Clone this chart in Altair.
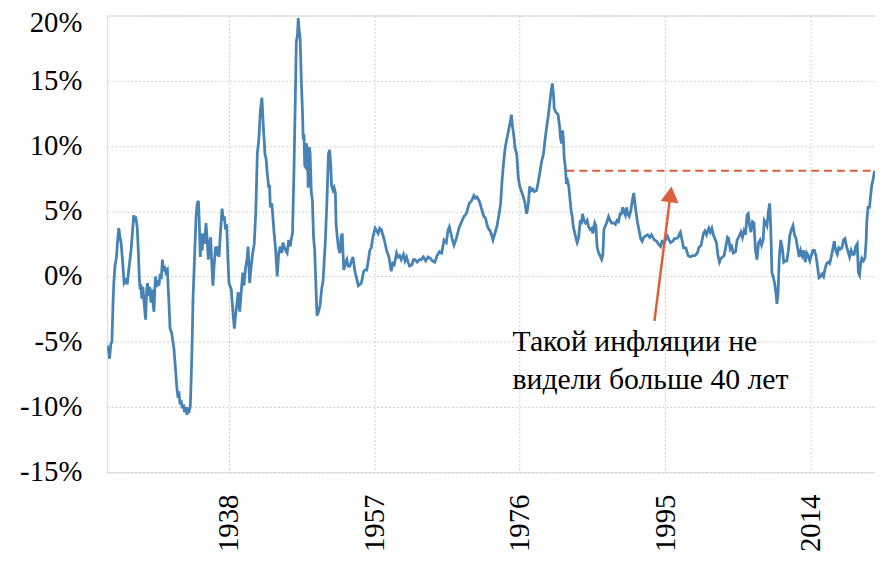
import altair as alt
import pandas as pd

# ---- data (year, YoY inflation %) ----
years = [
    1922.10, 1922.25, 1922.40, 1922.55, 1922.70, 1922.85, 1922.95, 1923.10, 1923.30, 1923.45,
    1923.60, 1923.75, 1923.90, 1924.05, 1924.30, 1924.50, 1924.70, 1924.90, 1925.20, 1925.40,
    1925.55, 1925.65, 1925.80, 1926.00, 1926.15, 1926.30, 1926.40, 1926.50, 1926.60, 1926.75,
    1926.90, 1927.10, 1927.25, 1927.35, 1927.50, 1927.65, 1927.80, 1927.95, 1928.10, 1928.20,
    1928.30, 1928.40, 1928.55, 1928.70, 1928.85, 1929.00, 1929.15, 1929.30, 1929.45, 1929.60,
    1929.75, 1929.95, 1930.15, 1930.30, 1930.50, 1930.80, 1931.00, 1931.20, 1931.35, 1931.45,
    1931.60, 1931.75, 1931.90, 1932.05, 1932.20, 1932.35, 1932.50, 1932.65, 1932.80, 1932.95,
    1933.15, 1933.30, 1933.50, 1933.70, 1933.85, 1934.00, 1934.10, 1934.25, 1934.40, 1934.50,
    1934.65, 1934.80, 1935.00, 1935.15, 1935.30, 1935.45, 1935.60, 1935.75, 1935.90, 1936.05,
    1936.25, 1936.40, 1936.55, 1936.70, 1936.90, 1937.10, 1937.25, 1937.40, 1937.55, 1937.70,
    1937.85, 1938.00, 1938.30, 1938.50, 1938.70, 1938.85, 1939.05, 1939.20, 1939.40, 1939.60,
    1939.80, 1939.95, 1940.15, 1940.35, 1940.50, 1940.70, 1940.90, 1941.10, 1941.30, 1941.50,
    1941.70, 1941.90, 1942.10, 1942.30, 1942.50, 1942.70, 1942.85, 1943.00, 1943.20, 1943.30,
    1943.40, 1943.60, 1943.90, 1944.10, 1944.30, 1944.50, 1944.70, 1944.90, 1945.05, 1945.20,
    1945.40, 1945.60, 1945.80, 1946.00, 1946.15, 1946.30, 1946.50, 1946.70, 1946.80, 1946.95,
    1947.05, 1947.15, 1947.30, 1947.45, 1947.60, 1947.70, 1947.80, 1947.90, 1948.00, 1948.10,
    1948.25, 1948.35, 1948.50, 1948.60, 1948.75, 1948.90, 1949.05, 1949.20, 1949.35, 1949.50,
    1949.70, 1949.90, 1950.10, 1950.30, 1950.60, 1950.80, 1951.00, 1951.15, 1951.30, 1951.40,
    1951.60, 1951.75, 1951.90, 1952.00, 1952.10, 1952.30, 1952.50, 1952.65, 1952.80, 1952.95,
    1953.00, 1953.20, 1953.40, 1953.55, 1953.80, 1954.00, 1954.20, 1954.40, 1954.50, 1954.70,
    1954.90, 1955.10, 1955.30, 1955.60, 1955.80, 1956.00, 1956.20, 1956.40, 1956.60, 1956.80,
    1957.10, 1957.30, 1957.50, 1957.70, 1957.90, 1958.10, 1958.30, 1958.60, 1958.90, 1959.20,
    1959.40, 1959.60, 1959.90, 1960.10, 1960.30, 1960.50, 1960.80, 1961.00, 1961.20, 1961.40,
    1961.60, 1961.90, 1962.10, 1962.30, 1962.60, 1962.90, 1963.10, 1963.40, 1963.70, 1964.00,
    1964.30, 1964.60, 1964.90, 1965.20, 1965.50, 1965.80, 1966.10, 1966.40, 1966.60, 1966.80,
    1967.00, 1967.20, 1967.40, 1967.70, 1968.10, 1968.40, 1968.70, 1969.00, 1969.40, 1969.70,
    1970.00, 1970.20, 1970.40, 1970.70, 1971.00, 1971.30, 1971.50, 1971.80, 1972.00, 1972.20,
    1972.50, 1972.75, 1973.00, 1973.30, 1973.50, 1973.70, 1973.90, 1974.10, 1974.40, 1974.60,
    1974.80, 1974.90, 1975.05, 1975.20, 1975.40, 1975.60, 1975.80, 1976.00, 1976.30, 1976.50,
    1976.70, 1976.90, 1977.10, 1977.30, 1977.50, 1977.70, 1977.90, 1978.20, 1978.40, 1978.60,
    1978.85, 1979.10, 1979.30, 1979.50, 1979.70, 1979.90, 1980.10, 1980.25, 1980.40, 1980.50,
    1980.70, 1981.00, 1981.20, 1981.30, 1981.45, 1981.60, 1981.70, 1981.80, 1981.95, 1982.10,
    1982.25, 1982.40, 1982.55, 1982.70, 1982.85, 1983.00, 1983.20, 1983.35, 1983.50, 1983.70,
    1983.90, 1984.05, 1984.20, 1984.40, 1984.60, 1984.80, 1985.00, 1985.20, 1985.40, 1985.55,
    1985.80, 1985.95, 1986.10, 1986.30, 1986.50, 1986.70, 1986.85, 1987.00, 1987.20, 1987.40,
    1987.60, 1987.80, 1988.00, 1988.30, 1988.50, 1988.70, 1988.90, 1989.10, 1989.30, 1989.45,
    1989.60, 1989.80, 1989.95, 1990.10, 1990.30, 1990.50, 1990.70, 1990.90, 1991.05, 1991.20,
    1991.40, 1991.60, 1991.80, 1992.00, 1992.20, 1992.40, 1992.70, 1993.00, 1993.20, 1993.40,
    1993.60, 1993.90, 1994.10, 1994.40, 1994.60, 1994.90, 1995.10, 1995.30, 1995.50, 1995.70,
    1996.00, 1996.20, 1996.40, 1996.70, 1996.90, 1997.00, 1997.20, 1997.40, 1997.70, 1998.00,
    1998.30, 1998.60, 1998.90, 1999.20, 1999.40, 1999.70, 2000.00, 2000.20, 2000.40, 2000.70,
    2000.90, 2001.10, 2001.30, 2001.50, 2001.70, 2001.90, 2002.10, 2002.30, 2002.50, 2002.70,
    2002.90, 2003.15, 2003.30, 2003.50, 2003.70, 2003.90, 2004.20, 2004.40, 2004.60, 2004.90,
    2005.10, 2005.30, 2005.50, 2005.70, 2005.85, 2006.00, 2006.20, 2006.40, 2006.60, 2006.80,
    2007.00, 2007.20, 2007.40, 2007.60, 2007.80, 2007.95, 2008.15, 2008.30, 2008.50, 2008.65,
    2008.80, 2008.95, 2009.10, 2009.30, 2009.50, 2009.60, 2009.75, 2009.90, 2010.10, 2010.30,
    2010.50, 2010.70, 2010.90, 2011.10, 2011.30, 2011.50, 2011.70, 2011.90, 2012.10, 2012.30,
    2012.50, 2012.70, 2012.90, 2013.10, 2013.30, 2013.50, 2013.70, 2013.90, 2014.10, 2014.30,
    2014.50, 2014.70, 2014.90, 2015.10, 2015.30, 2015.50, 2015.70, 2015.90, 2016.10, 2016.30,
    2016.50, 2016.70, 2016.90, 2017.10, 2017.30, 2017.50, 2017.70, 2017.90, 2018.10, 2018.30,
    2018.50, 2018.70, 2018.90, 2019.10, 2019.30, 2019.50, 2019.70, 2019.90, 2020.10, 2020.25,
    2020.40, 2020.55, 2020.70, 2020.90, 2021.10, 2021.25, 2021.35, 2021.50, 2021.70, 2021.85,
    2022.00, 2022.15, 2022.30, 2022.40,
]
inflation = [
    -5.3, -5.6, -6.3, -5.2, -5.0, -2.0, -0.5, 0.8, 1.5, 2.8,
    3.7, 3.0, 2.6, 1.5, -0.5, -0.3, -0.6, 0.5, 2.0, 3.5,
    4.7, 4.2, 4.6, 3.8, 2.0, -0.3, -1.0, -0.6, -1.7, -0.8,
    -2.0, -3.3, -1.0, -0.5, -1.5, -0.8, -2.0, -1.0, -2.2, -2.7,
    -1.0, 0.0, -0.8, -0.3, -0.7, 0.2, -0.2, 1.3, 0.4, 0.8,
    0.3, 0.5, -2.0, -4.0, -4.3, -5.5, -7.0, -8.6, -9.3, -8.8,
    -9.8, -9.5, -10.1, -9.8, -10.4, -10.0, -10.6, -10.2, -10.3, -9.9,
    -6.0, -1.7, 1.5, 4.6, 5.6, 5.8, 4.5, 1.5, 3.3, 2.0,
    3.3, 2.5, 4.1, 2.8, 1.3, 2.5, 3.0, 1.0, -0.7, 0.8,
    2.3, 1.6, 2.3, 1.5, 3.5, 5.2, 4.3, 4.6, 3.6, 4.0,
    1.5, -0.5, -1.0, -2.6, -4.0, -3.0, -2.0, -1.2, -2.7, -1.2,
    0.3, -0.7, 0.6, 1.3, 2.3, -0.5, 0.8, 1.8, 2.5, 4.9,
    9.4, 10.5, 12.7, 13.7, 11.4, 9.4, 9.0, 7.9, 6.8, 7.0,
    5.3, 5.6, 3.3, 2.0, 0.0, 1.8, 2.3, 1.8, 2.6, 2.3,
    2.0, 1.8, 2.8, 2.3, 2.9, 3.3, 8.4, 14.7, 18.0, 18.5,
    19.8, 19.0, 18.2, 15.0, 12.7, 10.5, 10.9, 8.5, 8.4, 10.2,
    9.8, 6.8, 9.9, 9.5, 6.5, 5.8, 3.0, 2.0, -0.5, -3.0,
    -2.7, -2.2, -1.0, -0.3, 2.8, 5.8, 9.4, 9.7, 8.5, 7.0,
    6.6, 6.8, 6.4, 4.0, 3.3, 2.2, 1.8, 3.0, 3.3, 1.2,
    0.5, 1.0, 1.3, 0.8, 0.8, 1.2, 1.5, 0.6, 0.3, -0.2,
    -0.7, -0.6, -0.5, 0.4, 0.5, 0.5, 1.2, 2.0, 2.2, 3.0,
    3.7, 3.5, 3.3, 3.7, 3.6, 3.2, 2.8, 2.0, 1.5, 0.4,
    1.0, 0.9, 1.8, 1.5, 1.6, 1.3, 1.7, 1.2, 1.5, 1.1,
    0.8, 0.9, 1.3, 1.3, 1.1, 1.3, 1.3, 1.5, 1.2, 1.5,
    1.4, 1.2, 1.1, 1.6, 1.9, 1.8, 2.8, 2.6, 3.5, 3.8,
    3.3, 2.8, 2.4, 2.9, 3.8, 4.2, 4.6, 4.8, 5.6, 5.8,
    6.2, 6.0, 6.1, 5.8, 5.2, 4.6, 4.5, 3.8, 3.6, 3.4,
    2.8, 3.3, 3.8, 4.8, 5.6, 7.5, 8.8, 9.9, 10.8, 11.4,
    12.0, 12.4, 11.5, 10.9, 9.8, 9.4, 7.6, 6.9, 6.4, 6.0,
    5.6, 4.8, 5.5, 6.9, 6.6, 6.7, 6.5, 6.6, 7.2, 7.9,
    8.8, 9.4, 10.5, 11.4, 12.2, 13.2, 14.2, 14.8, 14.0, 12.9,
    12.6, 12.4, 11.5, 10.7, 10.2, 11.2, 10.5, 9.1, 8.4, 7.1,
    7.3, 6.9, 6.0, 5.1, 4.6, 3.8, 3.3, 2.9, 2.6, 3.0,
    4.3, 4.0, 4.8, 4.3, 4.1, 4.3, 3.8, 3.6, 3.7, 3.3,
    4.1, 3.9, 2.3, 1.8, 1.6, 1.3, 1.6, 3.6, 3.9, 4.2,
    4.6, 4.3, 4.1, 4.1, 4.0, 4.3, 4.2, 4.8, 4.8, 5.3,
    5.0, 4.7, 5.3, 4.8, 4.6, 5.0, 5.8, 6.4, 5.6, 4.9,
    4.1, 3.5, 2.9, 2.7, 3.0, 3.1, 3.2, 3.0, 3.2, 3.0,
    2.8, 2.7, 2.5, 2.3, 2.7, 2.6, 2.9, 3.1, 2.8, 2.6,
    2.7, 2.9, 2.9, 3.0, 3.3, 3.4, 2.8, 2.2, 2.2, 1.6,
    1.5, 1.6, 1.6, 1.8, 2.2, 2.4, 3.3, 3.5, 3.2, 3.7,
    3.4, 3.7, 3.2, 2.9, 2.6, 1.6, 1.1, 1.4, 1.5, 1.6,
    2.2, 3.0, 2.9, 2.1, 2.3, 1.8, 1.9, 2.8, 3.0, 3.4,
    3.0, 3.5, 3.2, 4.7, 4.8, 4.0, 3.4, 4.2, 4.1, 2.0,
    1.3, 2.6, 2.8, 2.4, 2.8, 4.3, 4.1, 3.9, 5.0, 5.6,
    3.7, 0.3, 0.0, -0.5, -1.4, -2.1, -1.3, 1.3, 2.8, 2.2,
    1.1, 1.2, 1.2, 2.0, 3.2, 3.6, 3.9, 3.2, 2.9, 2.2,
    1.5, 2.0, 1.6, 2.0, 1.1, 1.8, 1.6, 1.2, 1.6, 2.0,
    2.0, 1.6, 0.8, -0.1, 0.0, 0.2, 0.0, 0.6, 1.0, 1.1,
    1.0, 1.5, 2.1, 2.7, 2.0, 1.7, 2.2, 2.1, 2.2, 2.8,
    2.9, 2.3, 1.9, 1.5, 2.0, 1.7, 1.7, 2.3, 2.5, 0.3,
    0.1, 1.0, 1.4, 1.2, 1.4, 2.6, 4.2, 5.3, 5.3, 6.2,
    7.0, 7.4, 7.9, 8.1,
]

x_ticks = [1938, 1957, 1976, 1995, 2014]
y_ticks = [-15, -10, -5, 0, 5, 10, 15, 20]
y_tick_text = ["-15%", "-10%", "-5%", "0%", "5%", "10%", "15%", "20%"]

# reference level (dashed) and annotation
level_start = [1982.1]
level_end = [2022.42]
level_value = [8.1]
note_lines = ["Такой инфляции не", "видели больше 40 лет"]
note_year = [1975.05]
note_value = [-5.8]
arrow_from = [(1993.6, -3.4)]
arrow_to = [(1995.6, 5.85)]
arrow_head = [(1995.7, 6.3)]

X_DOMAIN = [1922.07, 2022.42]
Y_DOMAIN = [-15, 20]
FONT = "serif"
AXIS_FONT = "Liberation Serif"
LINE_COLOR = "#4682b4"
ACCENT = "#d9603b"

df = pd.DataFrame({"year": years, "value": inflation})

xs = alt.Scale(domain=X_DOMAIN, nice=False, zero=False)
ys = alt.Scale(domain=Y_DOMAIN, nice=False, zero=False)

x_axis = alt.Axis(values=x_ticks, format="d", labelAngle=270, labelFontSize=29,
                  labelFont=AXIS_FONT, labelPadding=22,
                  ticks=False, domain=False, grid=True, gridColor="#cccccc",
                  gridDash=[2, 2], gridWidth=1, title=None)
# y axis: grid only; its labels are drawn as text marks below
y_axis = alt.Axis(values=y_ticks, labels=False, ticks=False, domain=False, grid=True,
                  gridColor="#cccccc", gridDash=[2, 2], gridWidth=1, title=None)

line = alt.Chart(df).mark_line(color=LINE_COLOR, strokeWidth=2.8, clip=True).encode(
    x=alt.X("year:Q", scale=xs, axis=x_axis),
    y=alt.Y("value:Q", scale=ys, axis=y_axis),
)

ylab_df = pd.DataFrame({"v": y_ticks, "t": y_tick_text})
ylab_base = alt.Chart(ylab_df)
ylabels = ylab_base.mark_text(align="right", baseline="middle", font=FONT,
                              fontSize=29, color="#000000").encode(
    x=alt.value(-25), y=alt.Y("v:Q", scale=ys), text="t:N",
).transform_filter("datum.v < 20")
ylabel_top = ylab_base.mark_text(align="right", baseline="middle", font=FONT,
                                 fontSize=29, color="#000000", dy=8).encode(
    x=alt.value(-25), y=alt.Y("v:Q", scale=ys), text="t:N",
).transform_filter("datum.v >= 20")

lvl_df = pd.DataFrame({"x": level_start, "x2": level_end, "y": level_value})
level = alt.Chart(lvl_df).mark_rule(color=ACCENT, strokeWidth=2, strokeDash=[8, 5], clip=True).encode(
    x=alt.X("x:Q", scale=xs), x2="x2:Q", y=alt.Y("y:Q", scale=ys)
)

arr_df = pd.DataFrame({
    "x": [a[0] for a in arrow_from], "y": [a[1] for a in arrow_from],
    "x2": [a[0] for a in arrow_to], "y2": [a[1] for a in arrow_to],
})
shaft = alt.Chart(arr_df).mark_rule(color=ACCENT, strokeWidth=2.5).encode(
    x=alt.X("x:Q", scale=xs), y=alt.Y("y:Q", scale=ys), x2="x2:Q", y2="y2:Q"
)
head_df = pd.DataFrame({"x": [h[0] for h in arrow_head], "y": [h[1] for h in arrow_head]})
head = alt.Chart(head_df).mark_point(shape="triangle-up", filled=True, color=ACCENT,
                                     opacity=1, size=330, angle=7).encode(
    x=alt.X("x:Q", scale=xs), y=alt.Y("y:Q", scale=ys)
)

note_df = pd.DataFrame({"x": note_year, "y": note_value})
note1 = alt.Chart(note_df).mark_text(text=note_lines[0], align="left", baseline="middle",
                                     font=FONT, fontSize=30, dy=-10, color="#000000").encode(
    x=alt.X("x:Q", scale=xs), y=alt.Y("y:Q", scale=ys)
)
note2 = alt.Chart(note_df).mark_text(text=note_lines[1], align="left", baseline="middle",
                                     font=FONT, fontSize=30, dy=28, color="#000000").encode(
    x=alt.X("x:Q", scale=xs), y=alt.Y("y:Q", scale=ys)
)

chart = alt.layer(line, ylabels, ylabel_top, level, shaft, head, note1, note2).properties(
    width=775, height=461,
    autosize=alt.AutoSizeParams(type="none"),
    padding={"left": 100, "top": 5, "right": 0, "bottom": 90},
)

chart.save("out.html", embed_options={"renderer": "svg", "actions": False})
